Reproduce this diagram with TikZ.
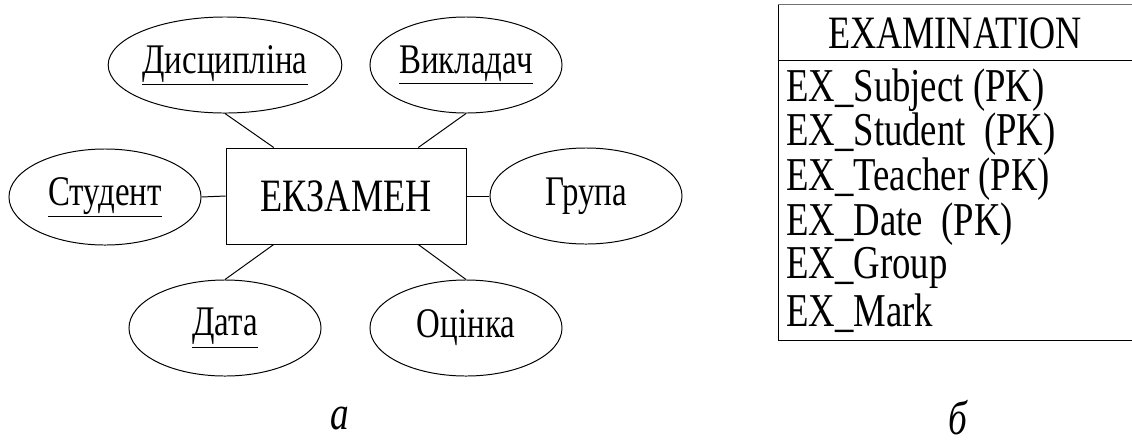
\documentclass[tikz,border=0pt]{standalone}
\usepackage{fontspec}
\setmainfont{Liberation Serif}[FakeStretch=0.78]
\usetikzlibrary{shapes.geometric,calc}
\tikzset{
  attr/.style={
    ellipse,
    draw,
    line width=0.7pt,
    minimum width=136.6pt,
    minimum height=68.3pt,
    inner sep=0pt,
    font=\fontsize{30}{33}\selectfont
  },
  entity/.style={
    draw,
    line width=0.7pt,
    minimum width=170.7pt,
    minimum height=68.3pt,
    inner sep=0pt,
    font=\fontsize{33}{38}\selectfont
  },
  field/.style={
    anchor=west,
    inner sep=0pt,
    font=\fontsize{33.5}{37}\selectfont
  },
  link/.style={line width=0.7pt},
  caption/.style={font=\fontsize{34}{38}\selectfont\itshape}
}
\begin{document}
\begin{tikzpicture}[x=0.7113pt,y=-0.7113pt]
  \useasboundingbox (0,0) rectangle (1132,446);
  % ER diagram
  \node[entity] (exam) at (346,196) {ЕКЗАМЕН};
  \node[attr] (subj) at (225,65) {\underline{Дисципліна}};
  \node[attr] (teach) at (466,65) {\underline{Викладач}};
  \node[attr] (stud) at (105,197) {\underline{Студент}};
  \node[attr] (grp) at (586,196) {Група};
  \node[attr] (date) at (225,328) {\underline{Дата}};
  \node[attr] (mark) at (466,328) {Оцінка};
  \draw[link] (subj.south) -- ($(exam.north west)!0.2!(exam.north east)$);
  \draw[link] (teach.south) -- ($(exam.north west)!0.8!(exam.north east)$);
  \draw[link] (stud.east) -- (exam.west);
  \draw[link] (exam.east) -- (grp.west);
  \draw[link] (date.north) -- ($(exam.south west)!0.2!(exam.south east)$);
  \draw[link] (mark.north) -- ($(exam.south west)!0.8!(exam.south east)$);
  % table
  \draw[link,black!55] (778,4.5) -- (1132,4.5);
  \draw[link] (1132,60) -- (778,60);
  \draw[link] (778,4.5) -- (778,340) -- (1132,340);
  \node[font=\fontsize{33}{36}\selectfont] (title) at (955,33) {EXAMINATION};
  \foreach \txt [count=\i from 0] in {EX\_Subject (PK),EX\_Student\ \ (PK),EX\_Teacher (PK),EX\_Date\ \ (PK),EX\_Group,EX\_Mark}
    \node[field] (row\i) at (786,90+44.6*\i) {\txt};
  % captions
  \node[caption] (capa) at (340,418) {а};
  \node[caption] (capb) at (958,418) {б};
\end{tikzpicture}
\end{document}
